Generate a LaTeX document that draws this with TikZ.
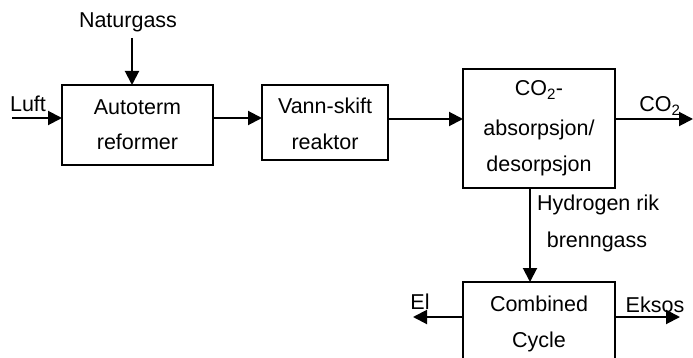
\documentclass[tikz,border=0pt]{standalone}
\usepackage{fontspec}
\setmainfont{Liberation Sans}
\usetikzlibrary{arrows.meta}
\begin{document}
\begin{tikzpicture}[x=1pt,y=-1pt,
  every node/.style={font=\fontsize{21.5}{25}\selectfont, inner sep=0pt},
  blk/.style={draw, line width=2pt},
  flow/.style={line width=2pt, -{Triangle[length=14pt,width=14pt]}},
  lbl/.style={anchor=center}]
\useasboundingbox (0,0) rectangle (693,358);
% boxes
\draw[blk] (62,85) rectangle (213,165);
\node (atr) [minimum width=151pt, minimum height=80pt] at (137.5,125) {};
\node[lbl] at (137.5,107) {Autoterm};
\node[lbl] at (137.5,142) {reformer};
\draw[blk] (262,85) rectangle (388,160);
\node (wgs) [minimum width=126pt, minimum height=75pt] at (325,122.5) {};
\node[lbl] at (325,106) {Vann-skift};
\node[lbl] at (325,142) {reaktor};
\draw[blk] (463,69) rectangle (615,188);
\node (abs) [minimum width=152pt, minimum height=119pt] at (539,128.5) {};
\node[lbl] at (539,90) {CO\textsubscript{2}-};
\node[lbl] at (539,130) {absorpsjon/};
\node[lbl] at (539,166) {desorpsjon};
\draw[blk] (463,282) rectangle (615,380);
\node (cc) [minimum width=152pt, minimum height=98pt] at (539,331) {};
\node[lbl] at (539,304) {Combined};
\node[lbl] at (539,342) {Cycle};
% inputs/outputs
\node (ng) at (128,22) {Naturgass};
\coordinate (ngs) at (132,38);
\coordinate (ngt) at (132,85);
\draw[flow] (ngs) -- (ngt);
\node (luft) at (28,104) {Luft};
\coordinate (luftS) at (12,118);
\coordinate (luftT) at (62,118);
\draw[flow] (luftS) -- (luftT);
\draw[flow] (213,118) -- (262,118);
\draw[flow] (388,119) -- (463,119);
\coordinate (co2T) at (693,119);
\draw[flow] (615,119) -- (co2T);
\node (co2) at (660,106) {CO\textsubscript{2}};
\draw[flow] (530,188) -- (530,282);
\node (h2a) [anchor=west] at (537,205) {Hydrogen rik};
\node (h2b) at (597,242) {brenngass};
\coordinate (elT) at (413,317);
\draw[flow] (463,317) -- (elT);
\node (el) at (420,302) {El};
\coordinate (exT) at (680,317);
\draw[flow] (615,317) -- (exT);
\node (ex) at (655,305) {Eksos};
\end{tikzpicture}
\end{document}
